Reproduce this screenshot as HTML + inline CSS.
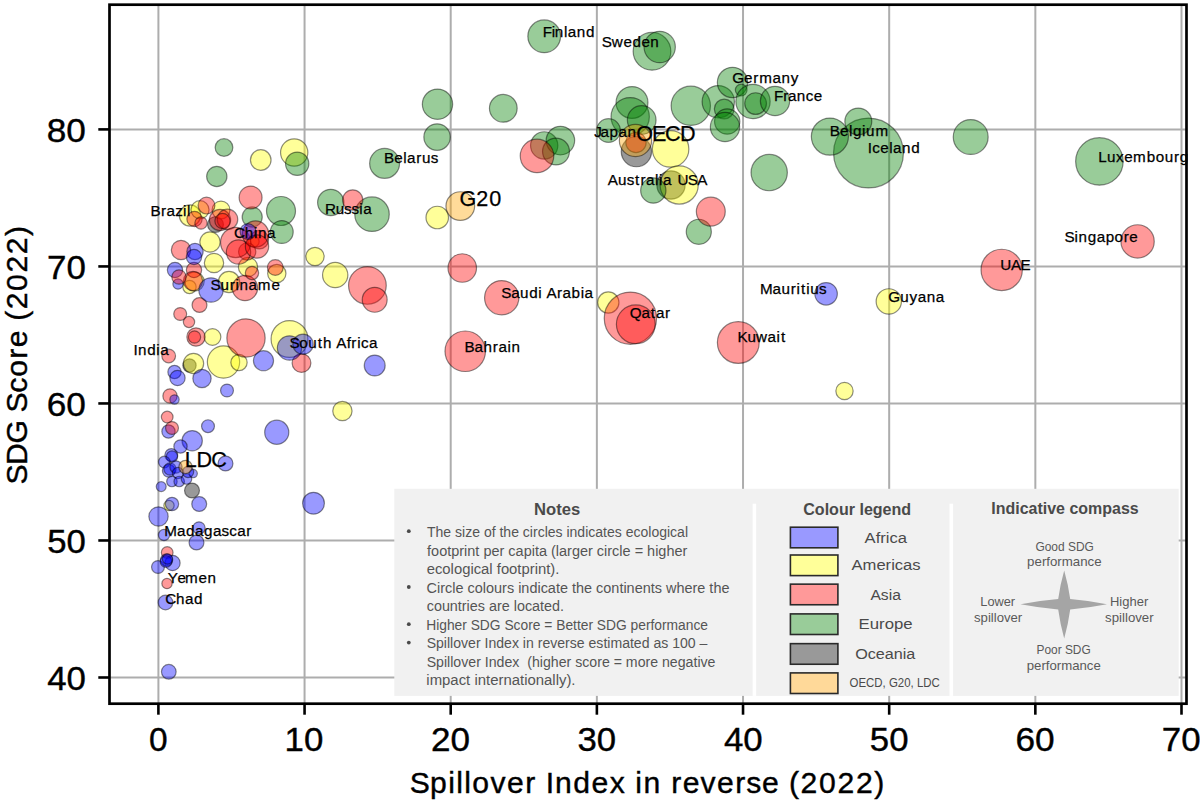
<!DOCTYPE html><html><head><meta charset="utf-8"><style>html,body{margin:0;padding:0;background:#fff;}svg{display:block;}</style></head><body><svg width="1200" height="800" viewBox="0 0 1200 800"><rect x="0" y="0" width="1200" height="800" fill="#ffffff"/>
<g stroke="#adadad" stroke-width="2"><line x1="158.40" y1="4.7" x2="158.40" y2="703.7"/><line x1="304.56" y1="4.7" x2="304.56" y2="703.7"/><line x1="450.71" y1="4.7" x2="450.71" y2="703.7"/><line x1="596.87" y1="4.7" x2="596.87" y2="703.7"/><line x1="743.03" y1="4.7" x2="743.03" y2="703.7"/><line x1="889.18" y1="4.7" x2="889.18" y2="703.7"/><line x1="1035.34" y1="4.7" x2="1035.34" y2="703.7"/><line x1="1181.50" y1="4.7" x2="1181.50" y2="703.7"/><line x1="109.5" y1="677.50" x2="1186.5" y2="677.50"/><line x1="109.5" y1="540.48" x2="1186.5" y2="540.48"/><line x1="109.5" y1="403.45" x2="1186.5" y2="403.45"/><line x1="109.5" y1="266.43" x2="1186.5" y2="266.43"/><line x1="109.5" y1="129.40" x2="1186.5" y2="129.40"/></g>
<g fill-opacity="0.4" stroke="#000" stroke-opacity="0.45" stroke-width="1.2"><circle cx="636.4" cy="151.6" r="15.15" fill="#000000"/><circle cx="671" cy="185" r="14.15" fill="#000000"/><circle cx="215.5" cy="224.5" r="7.95" fill="#000000"/><circle cx="189.5" cy="365.5" r="6.65" fill="#000000"/><circle cx="192" cy="490.5" r="7.45" fill="#000000"/><circle cx="260.75" cy="160" r="10.30" fill="#ffff00"/><circle cx="294.2" cy="152.5" r="13.65" fill="#ffff00"/><circle cx="437.25" cy="217.5" r="11.25" fill="#ffff00"/><circle cx="670.6" cy="148.9" r="18.25" fill="#ffff00"/><circle cx="679.2" cy="185" r="19.05" fill="#ffff00"/><circle cx="608.3" cy="302.5" r="10.65" fill="#ffff00"/><circle cx="888.8" cy="301.4" r="12.65" fill="#ffff00"/><circle cx="844.5" cy="391" r="8.65" fill="#ffff00"/><circle cx="315" cy="256.5" r="9.15" fill="#ffff00"/><circle cx="335.2" cy="275" r="12.65" fill="#ffff00"/><circle cx="342.4" cy="411" r="9.65" fill="#ffff00"/><circle cx="289.5" cy="339" r="18.40" fill="#ffff00"/><circle cx="190" cy="215.5" r="10.65" fill="#ffff00"/><circle cx="200" cy="209.7" r="9.05" fill="#ffff00"/><circle cx="221" cy="210" r="8.95" fill="#ffff00"/><circle cx="210" cy="242" r="10.15" fill="#ffff00"/><circle cx="214" cy="263" r="9.65" fill="#ffff00"/><circle cx="229" cy="282" r="10.65" fill="#ffff00"/><circle cx="248" cy="267" r="9.65" fill="#ffff00"/><circle cx="253.5" cy="241.5" r="5.65" fill="#ffff00"/><circle cx="276.8" cy="273.5" r="9.15" fill="#ffff00"/><circle cx="193.5" cy="363.5" r="10.15" fill="#ffff00"/><circle cx="223.5" cy="362" r="16.15" fill="#ffff00"/><circle cx="239" cy="362.5" r="8.15" fill="#ffff00"/><circle cx="212.5" cy="337" r="8.35" fill="#ffff00"/><circle cx="189.5" cy="287" r="6.65" fill="#ffff00"/><circle cx="194.5" cy="281.5" r="9.65" fill="#ffff00"/><circle cx="169" cy="505.5" r="5.15" fill="#ffff00"/><circle cx="544.2" cy="36.3" r="16.35" fill="#008000"/><circle cx="652" cy="51.3" r="18.85" fill="#008000"/><circle cx="659.7" cy="47" r="15.65" fill="#008000"/><circle cx="437.5" cy="104.2" r="15.15" fill="#008000"/><circle cx="503.3" cy="108.3" r="13.85" fill="#008000"/><circle cx="437.1" cy="137.1" r="13.25" fill="#008000"/><circle cx="384.6" cy="163.4" r="14.95" fill="#008000"/><circle cx="632" cy="102.5" r="15.95" fill="#008000"/><circle cx="630.2" cy="116.7" r="19.15" fill="#008000"/><circle cx="641.7" cy="120" r="14.35" fill="#008000"/><circle cx="608.5" cy="130.5" r="11.85" fill="#008000"/><circle cx="690.8" cy="105.8" r="19.65" fill="#008000"/><circle cx="718.3" cy="101.7" r="16.15" fill="#008000"/><circle cx="732.5" cy="82.5" r="15.15" fill="#008000"/><circle cx="724.2" cy="109" r="9.85" fill="#008000"/><circle cx="727.2" cy="121.5" r="12.65" fill="#008000"/><circle cx="725" cy="127" r="14.65" fill="#008000"/><circle cx="741.2" cy="90" r="5.85" fill="#008000"/><circle cx="753" cy="101.5" r="17.15" fill="#008000"/><circle cx="755.6" cy="103.6" r="10.85" fill="#008000"/><circle cx="775" cy="101" r="14.65" fill="#008000"/><circle cx="868.5" cy="153" r="34.95" fill="#008000"/><circle cx="858.3" cy="121.5" r="13.45" fill="#008000"/><circle cx="829.9" cy="136.6" r="18.55" fill="#008000"/><circle cx="970.7" cy="137" r="17.45" fill="#008000"/><circle cx="1099.4" cy="161.4" r="23.75" fill="#008000"/><circle cx="769.2" cy="172.6" r="18.15" fill="#008000"/><circle cx="698.8" cy="231.8" r="12.55" fill="#008000"/><circle cx="653.3" cy="190.5" r="12.65" fill="#008000"/><circle cx="544.2" cy="145.4" r="13.65" fill="#008000"/><circle cx="560.4" cy="140.6" r="14.25" fill="#008000"/><circle cx="556" cy="151.5" r="13.45" fill="#008000"/><circle cx="224" cy="147.5" r="8.85" fill="#008000"/><circle cx="297.2" cy="163.75" r="11.65" fill="#008000"/><circle cx="216.8" cy="176.5" r="10.15" fill="#008000"/><circle cx="281" cy="211" r="14.50" fill="#008000"/><circle cx="252.2" cy="217" r="10.05" fill="#008000"/><circle cx="281.75" cy="232" r="11.45" fill="#008000"/><circle cx="330.75" cy="202.5" r="13.15" fill="#008000"/><circle cx="372" cy="214.2" r="17.25" fill="#008000"/><circle cx="537" cy="155.9" r="16.75" fill="#ff0000"/><circle cx="710.8" cy="211.6" r="14.45" fill="#ff0000"/><circle cx="636" cy="142.5" r="10.15" fill="#ff0000"/><circle cx="1001.7" cy="269.9" r="20.65" fill="#ff0000"/><circle cx="1137.6" cy="241.4" r="16.65" fill="#ff0000"/><circle cx="630.4" cy="318.2" r="26.15" fill="#ff0000"/><circle cx="635.8" cy="324.3" r="19.40" fill="#ff0000"/><circle cx="738.3" cy="342.5" r="20.90" fill="#ff0000"/><circle cx="501.7" cy="297.7" r="17.15" fill="#ff0000"/><circle cx="465.25" cy="351.25" r="20.25" fill="#ff0000"/><circle cx="462.25" cy="268" r="14.25" fill="#ff0000"/><circle cx="352.7" cy="200" r="10.15" fill="#ff0000"/><circle cx="367.4" cy="285.4" r="18.85" fill="#ff0000"/><circle cx="374.7" cy="299.8" r="12.45" fill="#ff0000"/><circle cx="250.6" cy="197.5" r="11.45" fill="#ff0000"/><circle cx="246" cy="338" r="19.15" fill="#ff0000"/><circle cx="301.5" cy="363" r="9.40" fill="#ff0000"/><circle cx="275.3" cy="267.5" r="7.85" fill="#ff0000"/><circle cx="259.3" cy="239.7" r="9.25" fill="#ff0000"/><circle cx="247.2" cy="251.5" r="8.65" fill="#ff0000"/><circle cx="194.5" cy="219" r="7.65" fill="#ff0000"/><circle cx="201" cy="223" r="6.15" fill="#ff0000"/><circle cx="206.5" cy="205.6" r="8.40" fill="#ff0000"/><circle cx="220" cy="220" r="10.65" fill="#ff0000"/><circle cx="227.5" cy="219.4" r="10.25" fill="#ff0000"/><circle cx="222.5" cy="221" r="7.65" fill="#ff0000"/><circle cx="235.7" cy="242.5" r="15.15" fill="#ff0000"/><circle cx="238.5" cy="252" r="12.15" fill="#ff0000"/><circle cx="255.5" cy="234" r="13.15" fill="#ff0000"/><circle cx="257" cy="246.5" r="11.65" fill="#ff0000"/><circle cx="245" cy="288" r="12.65" fill="#ff0000"/><circle cx="194" cy="270" r="7.65" fill="#ff0000"/><circle cx="193" cy="281" r="9.65" fill="#ff0000"/><circle cx="252" cy="273" r="6.65" fill="#ff0000"/><circle cx="199.5" cy="305" r="7.45" fill="#ff0000"/><circle cx="180.2" cy="314" r="6.45" fill="#ff0000"/><circle cx="189" cy="322" r="5.65" fill="#ff0000"/><circle cx="196" cy="337" r="9.15" fill="#ff0000"/><circle cx="194.5" cy="337" r="6.15" fill="#ff0000"/><circle cx="168.7" cy="356" r="6.85" fill="#ff0000"/><circle cx="170" cy="396" r="7.15" fill="#ff0000"/><circle cx="167.2" cy="417" r="5.85" fill="#ff0000"/><circle cx="167.2" cy="552.5" r="5.85" fill="#ff0000"/><circle cx="167" cy="583.5" r="5.15" fill="#ff0000"/><circle cx="181" cy="250" r="9.65" fill="#ff0000"/><circle cx="171.3" cy="455" r="6.40" fill="#0000ff"/><circle cx="172" cy="456.5" r="5.65" fill="#0000ff"/><circle cx="164.3" cy="462" r="5.85" fill="#0000ff"/><circle cx="168.8" cy="470.8" r="6.40" fill="#0000ff"/><circle cx="170" cy="469" r="6.15" fill="#0000ff"/><circle cx="176" cy="467" r="6.15" fill="#0000ff"/><circle cx="178" cy="473" r="5.65" fill="#0000ff"/><circle cx="171.9" cy="481.5" r="5.25" fill="#0000ff"/><circle cx="179.2" cy="481.5" r="5.25" fill="#0000ff"/><circle cx="186.5" cy="479" r="5.25" fill="#0000ff"/><circle cx="193.2" cy="473.6" r="4.15" fill="#0000ff"/><circle cx="161.2" cy="486.6" r="4.95" fill="#0000ff"/><circle cx="188" cy="472" r="5.65" fill="#0000ff"/><circle cx="826.1" cy="293.8" r="11.25" fill="#0000ff"/><circle cx="374.7" cy="365.5" r="10.45" fill="#0000ff"/><circle cx="289.5" cy="348" r="12.15" fill="#0000ff"/><circle cx="303" cy="344.2" r="10.15" fill="#0000ff"/><circle cx="263.5" cy="360.7" r="10.05" fill="#0000ff"/><circle cx="276.75" cy="432.25" r="12.05" fill="#0000ff"/><circle cx="313.5" cy="503.2" r="10.90" fill="#0000ff"/><circle cx="248" cy="231.5" r="7.95" fill="#0000ff"/><circle cx="175" cy="270" r="7.65" fill="#0000ff"/><circle cx="178" cy="284" r="5.15" fill="#0000ff"/><circle cx="211" cy="290" r="12.15" fill="#0000ff"/><circle cx="174.5" cy="372" r="6.65" fill="#0000ff"/><circle cx="177.5" cy="378" r="7.65" fill="#0000ff"/><circle cx="202" cy="378.5" r="9.15" fill="#0000ff"/><circle cx="227" cy="390.5" r="6.45" fill="#0000ff"/><circle cx="174.5" cy="399.5" r="4.65" fill="#0000ff"/><circle cx="168.5" cy="431.5" r="6.65" fill="#0000ff"/><circle cx="208" cy="426.2" r="6.45" fill="#0000ff"/><circle cx="192.2" cy="440.7" r="10.15" fill="#0000ff"/><circle cx="180.5" cy="446.5" r="6.65" fill="#0000ff"/><circle cx="225.5" cy="463.5" r="7.45" fill="#0000ff"/><circle cx="199.2" cy="504" r="7.45" fill="#0000ff"/><circle cx="172" cy="504" r="6.65" fill="#0000ff"/><circle cx="158.5" cy="516.5" r="9.65" fill="#0000ff"/><circle cx="199" cy="528" r="6.15" fill="#0000ff"/><circle cx="164" cy="535" r="5.65" fill="#0000ff"/><circle cx="196.5" cy="542.5" r="7.45" fill="#0000ff"/><circle cx="158" cy="567" r="6.45" fill="#0000ff"/><circle cx="172.5" cy="563" r="7.65" fill="#0000ff"/><circle cx="166.5" cy="560" r="6.15" fill="#0000ff"/><circle cx="166" cy="561.5" r="5.85" fill="#0000ff"/><circle cx="167.5" cy="559" r="5.15" fill="#0000ff"/><circle cx="165.5" cy="602.5" r="7.35" fill="#0000ff"/><circle cx="168.8" cy="671.8" r="7.35" fill="#0000ff"/><circle cx="195" cy="251.5" r="8.15" fill="#0000ff"/><circle cx="194" cy="257" r="7.65" fill="#0000ff"/><circle cx="179" cy="277" r="7.15" fill="#ff0000"/><circle cx="172" cy="428" r="6.45" fill="#ff0000"/><circle cx="635.5" cy="140.5" r="16.15" fill="#ffa500"/><circle cx="460.3" cy="206.1" r="14.35" fill="#ffa500"/><circle cx="185.5" cy="467" r="6.65" fill="#ffa500"/></g>
<rect x="394.3" y="488.8" width="784.4" height="207.1" fill="#f1f1f1"/>
<rect x="752.6" y="503.7" width="3.6" height="192.2" fill="#ffffff"/>
<rect x="949.5" y="503.7" width="3.6" height="192.2" fill="#ffffff"/>
<text x="534.12" y="515.00" font-family='"Liberation Sans", sans-serif' font-size="15.94" font-weight="bold" fill="#4a4a4a" textLength="46.20" lengthAdjust="spacingAndGlyphs" >Notes</text>
<text x="427.02" y="536.80" font-family='"Liberation Sans", sans-serif' font-size="14.06" font-weight="normal" fill="#555555" textLength="261.00" lengthAdjust="spacingAndGlyphs" style="white-space:pre">The size of the circles indicates ecological</text>
<circle cx="408.8" cy="531.2" r="1.9" fill="#4a4a4a"/>
<text x="427.08" y="555.50" font-family='"Liberation Sans", sans-serif' font-size="14.06" font-weight="normal" fill="#555555" textLength="260.26" lengthAdjust="spacingAndGlyphs" style="white-space:pre">footprint per capita (larger circle = higher</text>
<text x="426.71" y="574.00" font-family='"Liberation Sans", sans-serif' font-size="14.06" font-weight="normal" fill="#555555" textLength="132.69" lengthAdjust="spacingAndGlyphs" style="white-space:pre">ecological footprint).</text>
<text x="426.58" y="592.60" font-family='"Liberation Sans", sans-serif' font-size="14.06" font-weight="normal" fill="#555555" textLength="302.89" lengthAdjust="spacingAndGlyphs" style="white-space:pre">Circle colours indicate the continents where the</text>
<circle cx="408.8" cy="587.0" r="1.9" fill="#4a4a4a"/>
<text x="426.73" y="611.00" font-family='"Liberation Sans", sans-serif' font-size="14.06" font-weight="normal" fill="#555555" textLength="137.28" lengthAdjust="spacingAndGlyphs" style="white-space:pre">countries are located.</text>
<text x="426.20" y="629.80" font-family='"Liberation Sans", sans-serif' font-size="14.06" font-weight="normal" fill="#555555" textLength="281.83" lengthAdjust="spacingAndGlyphs" style="white-space:pre">Higher SDG Score = Better SDG performance</text>
<circle cx="408.8" cy="624.2" r="1.9" fill="#4a4a4a"/>
<text x="426.67" y="648.20" font-family='"Liberation Sans", sans-serif' font-size="14.06" font-weight="normal" fill="#555555" textLength="280.74" lengthAdjust="spacingAndGlyphs" style="white-space:pre">Spillover Index in reverse estimated as 100 –</text>
<circle cx="408.8" cy="642.6" r="1.9" fill="#4a4a4a"/>
<text x="426.66" y="666.90" font-family='"Liberation Sans", sans-serif' font-size="14.06" font-weight="normal" fill="#555555" textLength="288.81" lengthAdjust="spacingAndGlyphs" style="white-space:pre">Spillover Index  (higher score = more negative</text>
<text x="426.33" y="685.30" font-family='"Liberation Sans", sans-serif' font-size="14.06" font-weight="normal" fill="#555555" textLength="149.18" lengthAdjust="spacingAndGlyphs" style="white-space:pre">impact internationally).</text>
<text x="803.26" y="514.60" font-family='"Liberation Sans", sans-serif' font-size="16.38" font-weight="bold" fill="#4a4a4a" textLength="107.92" lengthAdjust="spacingAndGlyphs" >Colour legend</text>
<rect x="790.4" y="527.20" width="47.5" height="20.6" fill="#9999ff" stroke="#2a2a2a" stroke-width="1.6"/>
<text x="864.60" y="542.60" font-family='"Liberation Sans", sans-serif' font-size="15.36" font-weight="normal" fill="#4a4a4a" textLength="42.42" lengthAdjust="spacingAndGlyphs" >Africa</text>
<rect x="790.4" y="555.00" width="47.5" height="20.6" fill="#ffff99" stroke="#2a2a2a" stroke-width="1.6"/>
<text x="851.50" y="570.25" font-family='"Liberation Sans", sans-serif' font-size="15.36" font-weight="normal" fill="#4a4a4a" textLength="69.14" lengthAdjust="spacingAndGlyphs" >Americas</text>
<rect x="790.4" y="584.15" width="47.5" height="20.6" fill="#ff9999" stroke="#2a2a2a" stroke-width="1.6"/>
<text x="870.40" y="600.10" font-family='"Liberation Sans", sans-serif' font-size="15.36" font-weight="normal" fill="#4a4a4a" textLength="30.51" lengthAdjust="spacingAndGlyphs" >Asia</text>
<rect x="790.4" y="613.90" width="47.5" height="20.6" fill="#99cc99" stroke="#2a2a2a" stroke-width="1.6"/>
<text x="858.56" y="629.40" font-family='"Liberation Sans", sans-serif' font-size="15.36" font-weight="normal" fill="#4a4a4a" textLength="54.09" lengthAdjust="spacingAndGlyphs" >Europe</text>
<rect x="790.4" y="643.65" width="47.5" height="20.6" fill="#999999" stroke="#2a2a2a" stroke-width="1.6"/>
<text x="855.17" y="658.75" font-family='"Liberation Sans", sans-serif' font-size="15.36" font-weight="normal" fill="#4a4a4a" textLength="60.22" lengthAdjust="spacingAndGlyphs" >Oceania</text>
<rect x="790.4" y="672.9" width="47.5" height="20.6" fill="#ffd999" stroke="#2a2a2a" stroke-width="1.6"/>
<text x="849.59" y="686.75" font-family='"Liberation Sans", sans-serif' font-size="12.17" font-weight="normal" fill="#4a4a4a" textLength="90.23" lengthAdjust="spacingAndGlyphs" >OECD, G20, LDC</text>
<text x="991.36" y="514.00" font-family='"Liberation Sans", sans-serif' font-size="16.38" font-weight="bold" fill="#4a4a4a" textLength="147.30" lengthAdjust="spacingAndGlyphs" >Indicative compass</text>
<text x="1035.40" y="550.80" font-family='"Liberation Sans", sans-serif' font-size="13.04" font-weight="normal" fill="#595959" textLength="58.45" lengthAdjust="spacingAndGlyphs" >Good SDG</text>
<text x="1027.14" y="566.00" font-family='"Liberation Sans", sans-serif' font-size="13.04" font-weight="normal" fill="#595959" textLength="74.45" lengthAdjust="spacingAndGlyphs" >performance</text>
<text x="980.28" y="605.90" font-family='"Liberation Sans", sans-serif' font-size="13.04" font-weight="normal" fill="#595959" textLength="34.86" lengthAdjust="spacingAndGlyphs" >Lower</text>
<text x="974.01" y="621.80" font-family='"Liberation Sans", sans-serif' font-size="13.04" font-weight="normal" fill="#595959" textLength="48.23" lengthAdjust="spacingAndGlyphs" >spillover</text>
<text x="1109.96" y="605.90" font-family='"Liberation Sans", sans-serif' font-size="13.04" font-weight="normal" fill="#595959" textLength="38.25" lengthAdjust="spacingAndGlyphs" >Higher</text>
<text x="1105.10" y="621.80" font-family='"Liberation Sans", sans-serif' font-size="13.04" font-weight="normal" fill="#595959" textLength="48.54" lengthAdjust="spacingAndGlyphs" >spillover</text>
<text x="1036.45" y="653.60" font-family='"Liberation Sans", sans-serif' font-size="13.04" font-weight="normal" fill="#595959" textLength="54.31" lengthAdjust="spacingAndGlyphs" >Poor SDG</text>
<text x="1026.74" y="669.50" font-family='"Liberation Sans", sans-serif' font-size="13.04" font-weight="normal" fill="#595959" textLength="74.04" lengthAdjust="spacingAndGlyphs" >performance</text>
<path d="M1064.20,570.50 Q1068.18,584.54 1070.20,599.00 Q1088.74,600.61 1107.00,604.20 Q1088.74,607.79 1070.20,609.40 Q1068.18,624.15 1064.20,638.50 Q1060.22,624.15 1058.20,609.40 Q1039.21,607.79 1020.50,604.20 Q1039.21,600.61 1058.20,599.00 Q1060.22,584.54 1064.20,570.50 Z" fill="#a5a5a5"/>
<rect x="109.5" y="4.7" width="1077" height="699" fill="none" stroke="#000" stroke-width="2.7"/>
<g stroke="#000" stroke-width="2.6"><line x1="158.40" y1="703.7" x2="158.40" y2="714.7"/><line x1="304.56" y1="703.7" x2="304.56" y2="714.7"/><line x1="450.71" y1="703.7" x2="450.71" y2="714.7"/><line x1="596.87" y1="703.7" x2="596.87" y2="714.7"/><line x1="743.03" y1="703.7" x2="743.03" y2="714.7"/><line x1="889.18" y1="703.7" x2="889.18" y2="714.7"/><line x1="1035.34" y1="703.7" x2="1035.34" y2="714.7"/><line x1="1181.50" y1="703.7" x2="1181.50" y2="714.7"/><line x1="98.3" y1="677.50" x2="109.5" y2="677.50"/><line x1="98.3" y1="540.48" x2="109.5" y2="540.48"/><line x1="98.3" y1="403.45" x2="109.5" y2="403.45"/><line x1="98.3" y1="266.43" x2="109.5" y2="266.43"/><line x1="98.3" y1="129.40" x2="109.5" y2="129.40"/></g>
<text x="542.75 551.85 554.82 563.93 567.80 576.78 585.91" y="36.70" font-family='"Liberation Sans", sans-serif' font-size="15.23" fill="#000" stroke="#000" stroke-width="0.25">Finland</text>
<text x="601.75 611.79 623.38 632.38 641.38 650.37" y="47.00" font-family='"Liberation Sans", sans-serif' font-size="15.23" fill="#000" stroke="#000" stroke-width="0.25">Sweden</text>
<text x="732.36 744.06 753.15 759.32 772.60 781.57 790.83" y="82.50" font-family='"Liberation Sans", sans-serif' font-size="15.23" fill="#000" stroke="#000" stroke-width="0.25">Germany</text>
<text x="774.05 783.27 787.89 796.87 805.82 813.78" y="101.00" font-family='"Liberation Sans", sans-serif' font-size="15.23" fill="#000" stroke="#000" stroke-width="0.25">France</text>
<text x="829.72 839.93 848.91 852.93 862.05 866.07 875.53" y="136.00" font-family='"Liberation Sans", sans-serif' font-size="15.23" fill="#000" stroke="#000" stroke-width="0.25">Belgium</text>
<text x="867.87 872.26 880.22 889.19 893.06 902.04 911.17" y="152.60" font-family='"Liberation Sans", sans-serif' font-size="15.23" fill="#000" stroke="#000" stroke-width="0.25">Iceland</text>
<text x="1098.33 1106.91 1115.91 1124.17 1133.06 1146.76 1155.73 1164.70 1173.92 1179.75" y="161.60" font-family='"Liberation Sans", sans-serif' font-size="15.23" fill="#000" stroke="#000" stroke-width="0.25">Luxembourg</text>
<text x="1064.56 1074.52 1078.54 1087.67 1096.66 1105.64 1114.61 1123.68 1129.37" y="241.60" font-family='"Liberation Sans", sans-serif' font-size="15.23" fill="#000" stroke="#000" stroke-width="0.25">Singapore</text>
<text x="1000.34 1010.96 1020.44" y="270.00" font-family='"Liberation Sans", sans-serif' font-size="15.23" fill="#000" stroke="#000" stroke-width="0.25">UAE</text>
<text x="759.89 772.62 781.60 790.82 796.62 801.02 806.27 810.29 819.03" y="294.00" font-family='"Liberation Sans", sans-serif' font-size="15.23" fill="#000" stroke="#000" stroke-width="0.25">Mauritius</text>
<text x="888.36 900.19 909.45 917.69 926.67 935.64" y="302.00" font-family='"Liberation Sans", sans-serif' font-size="15.23" fill="#000" stroke="#000" stroke-width="0.25">Guyana</text>
<text x="737.40 747.53 756.00 767.57 776.52 780.92" y="341.70" font-family='"Liberation Sans", sans-serif' font-size="15.23" fill="#000" stroke="#000" stroke-width="0.25">Kuwait</text>
<text x="629.75 641.52 650.87 655.99 665.06" y="317.50" font-family='"Liberation Sans", sans-serif' font-size="15.23" fill="#000" stroke="#000" stroke-width="0.25">Qatar</text>
<text x="501.30 511.13 520.11 529.24 538.35 542.22 546.47 556.90 562.57 571.55 580.67 584.54" y="297.70" font-family='"Liberation Sans", sans-serif' font-size="15.23" fill="#000" stroke="#000" stroke-width="0.25">Saudi Arabia</text>
<text x="464.42 474.61 483.59 492.81 498.49 507.44 511.46" y="351.70" font-family='"Liberation Sans", sans-serif' font-size="15.23" fill="#000" stroke="#000" stroke-width="0.25">Bahrain</text>
<text x="594.36 600.47 609.45 618.44 627.41" y="137.20" font-family='"Liberation Sans", sans-serif' font-size="15.23" fill="#000" stroke="#000" stroke-width="0.25">Japan</text>
<text x="636.26 651.93 664.90 679.88" y="140.80" font-family='"Liberation Sans", sans-serif' font-size="21.58" fill="#000" stroke="#000" stroke-width="0.25">OECD</text>
<text x="607.69 618.03 626.77 635.04 640.40 646.07 655.03 659.03 662.90" y="185.20" font-family='"Liberation Sans", sans-serif' font-size="15.23" fill="#000" stroke="#000" stroke-width="0.25">Australia</text>
<text x="677.54 687.81 697.30" y="185.20" font-family='"Liberation Sans", sans-serif' font-size="15.23" fill="#000" stroke="#000" stroke-width="0.25">USA</text>
<text x="384.02 394.23 403.21 407.07 416.15 421.97 430.71" y="162.90" font-family='"Liberation Sans", sans-serif' font-size="15.23" fill="#000" stroke="#000" stroke-width="0.25">Belarus</text>
<text x="325.00 335.83 343.93 351.43 359.30 363.17" y="213.75" font-family='"Liberation Sans", sans-serif' font-size="15.23" fill="#000" stroke="#000" stroke-width="0.25">Russia</text>
<text x="459.59 476.37 489.35" y="205.70" font-family='"Liberation Sans", sans-serif' font-size="21.58" fill="#000" stroke="#000" stroke-width="0.25">G20</text>
<text x="150.48 160.92 166.60 175.21 183.11 187.11" y="215.50" font-family='"Liberation Sans", sans-serif' font-size="15.23" fill="#000" stroke="#000" stroke-width="0.25">Brazil</text>
<text x="233.98 244.84 253.95 257.97 266.94" y="238.00" font-family='"Liberation Sans", sans-serif' font-size="15.23" fill="#000" stroke="#000" stroke-width="0.25">China</text>
<text x="210.55 220.53 229.76 235.56 239.58 248.56 257.87 271.43" y="290.00" font-family='"Liberation Sans", sans-serif' font-size="15.23" fill="#000" stroke="#000" stroke-width="0.25">Suriname</text>
<text x="133.52 138.09 147.22 156.34 160.21" y="355.00" font-family='"Liberation Sans", sans-serif' font-size="15.23" fill="#000" stroke="#000" stroke-width="0.25">India</text>
<text x="289.55 299.37 308.34 317.85 323.11 332.09 336.34 346.76 351.32 357.13 360.97 368.91" y="348.30" font-family='"Liberation Sans", sans-serif' font-size="15.23" fill="#000" stroke="#000" stroke-width="0.25">South Africa</text>
<text x="184.64 196.39 211.36" y="467.00" font-family='"Liberation Sans", sans-serif' font-size="21.58" fill="#000" stroke="#000" stroke-width="0.25">LDC</text>
<text x="164.23 176.96 185.94 194.93 203.91 212.89 221.48 229.19 237.14 246.21" y="536.00" font-family='"Liberation Sans", sans-serif' font-size="15.23" fill="#000" stroke="#000" stroke-width="0.25">Madagascar</text>
<text x="167.82 177.49 184.91 198.46 207.46" y="583.00" font-family='"Liberation Sans", sans-serif' font-size="15.23" fill="#000" stroke="#000" stroke-width="0.25">Yemen</text>
<text x="165.23 176.09 185.07 194.05" y="603.50" font-family='"Liberation Sans", sans-serif' font-size="15.23" fill="#000" stroke="#000" stroke-width="0.25">Chad</text>
<text x="149.03" y="751.10" font-family='"Liberation Sans", sans-serif' font-size="33.87" font-weight="normal" fill="#000" textLength="18.61" lengthAdjust="spacingAndGlyphs" stroke="#000" stroke-width="0.4">0</text>
<text x="284.53" y="751.10" font-family='"Liberation Sans", sans-serif' font-size="33.87" font-weight="normal" fill="#000" textLength="38.73" lengthAdjust="spacingAndGlyphs" stroke="#000" stroke-width="0.4">10</text>
<text x="430.99" y="751.10" font-family='"Liberation Sans", sans-serif' font-size="33.87" font-weight="normal" fill="#000" textLength="39.00" lengthAdjust="spacingAndGlyphs" stroke="#000" stroke-width="0.4">20</text>
<text x="577.52" y="751.10" font-family='"Liberation Sans", sans-serif' font-size="33.87" font-weight="normal" fill="#000" textLength="38.62" lengthAdjust="spacingAndGlyphs" stroke="#000" stroke-width="0.4">30</text>
<text x="723.97" y="751.10" font-family='"Liberation Sans", sans-serif' font-size="33.87" font-weight="normal" fill="#000" textLength="38.73" lengthAdjust="spacingAndGlyphs" stroke="#000" stroke-width="0.4">40</text>
<text x="869.83" y="751.10" font-family='"Liberation Sans", sans-serif' font-size="33.87" font-weight="normal" fill="#000" textLength="38.62" lengthAdjust="spacingAndGlyphs" stroke="#000" stroke-width="0.4">50</text>
<text x="1015.53" y="751.10" font-family='"Liberation Sans", sans-serif' font-size="33.87" font-weight="normal" fill="#000" textLength="39.17" lengthAdjust="spacingAndGlyphs" stroke="#000" stroke-width="0.4">60</text>
<text x="1161.87" y="751.10" font-family='"Liberation Sans", sans-serif' font-size="33.87" font-weight="normal" fill="#000" textLength="38.82" lengthAdjust="spacingAndGlyphs" stroke="#000" stroke-width="0.4">70</text>
<text x="47.17" y="689.60" font-family='"Liberation Sans", sans-serif' font-size="33.41" font-weight="normal" fill="#000" textLength="38.73" lengthAdjust="spacingAndGlyphs" stroke="#000" stroke-width="0.4">40</text>
<text x="47.28" y="552.58" font-family='"Liberation Sans", sans-serif' font-size="33.41" font-weight="normal" fill="#000" textLength="38.62" lengthAdjust="spacingAndGlyphs" stroke="#000" stroke-width="0.4">50</text>
<text x="46.75" y="415.55" font-family='"Liberation Sans", sans-serif' font-size="33.41" font-weight="normal" fill="#000" textLength="39.17" lengthAdjust="spacingAndGlyphs" stroke="#000" stroke-width="0.4">60</text>
<text x="47.08" y="278.53" font-family='"Liberation Sans", sans-serif' font-size="33.41" font-weight="normal" fill="#000" textLength="38.82" lengthAdjust="spacingAndGlyphs" stroke="#000" stroke-width="0.4">70</text>
<text x="46.76" y="141.50" font-family='"Liberation Sans", sans-serif' font-size="33.41" font-weight="normal" fill="#000" textLength="39.15" lengthAdjust="spacingAndGlyphs" stroke="#000" stroke-width="0.4">80</text>
<text x="409.86 429.94 448.20 456.25 464.31 472.17 490.46 507.11 525.35 536.75 545.64 554.90 573.29 591.41 609.76 625.78 635.25 643.44 661.43 671.16 682.68 700.38 717.03 735.28 746.27 761.90 779.62 789.05 800.56 819.01 837.45 855.90 874.14" y="793.00" font-family='"Liberation Sans", sans-serif' font-size="30.14" fill="#000" stroke="#000" stroke-width="0.4">Spillover Index in reverse (2022)</text>
<g transform="translate(27.2,0) rotate(-90)"><text x="-484.56 -465.10 -443.61 -420.29 -412.39 -392.76 -376.82 -358.68 -347.21 -330.17 -320.77 -309.30 -290.92 -272.53 -254.15 -235.95" y="0.00" font-family='"Liberation Sans", sans-serif' font-size="30.14" fill="#000" stroke="#000" stroke-width="0.4">SDG Score (2022)</text></g></svg></body></html>
